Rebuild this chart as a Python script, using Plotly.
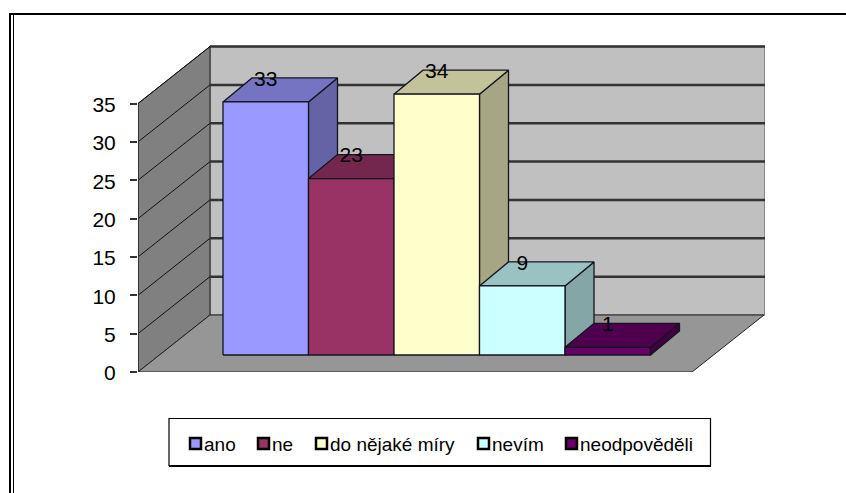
import plotly.graph_objects as go

categories = ["ano", "ne", "do nějaké míry", "nevím", "neodpověděli"]
values = [33, 23, 34, 9, 1]
colors = ["#9999FF", "#993366", "#FFFFCC", "#CCFFFF", "#660066"]
y_ticks = [0, 5, 10, 15, 20, 25, 30, 35]

W, H = 846, 493
L, R, T, B = 138, 81, 45, 121
PX_X = 85.5      # pixels per category
PX_Y = 7.67      # pixels per value unit
X_MAX = (W - L - R) / PX_X
Y_MAX = (H - B - T) / PX_Y
WALL_DX, WALL_DY = 72 / PX_X, 57 / PX_Y      # depth of the plot box
BAR_DX, BAR_DY = 29 / PX_X, 24 / PX_Y        # depth of a bar
BAR_X0, BAR_Y0 = (223 - L) / PX_X, (H - B - 355) / PX_Y
FLOOR_W = (692 - L) / PX_X
LABEL_DROP = 2.5 / PX_Y
EDGE = "#14141f"
FONT = "Liberation Sans, Arial, sans-serif"


def shade(hex_color, k):
    r, g, b = (int(hex_color[i:i + 2], 16) for i in (1, 3, 5))
    return f"rgb({round(r * k)},{round(g * k)},{round(b * k)})"


def poly(xs, ys, fill, line="#555555", width=1.3):
    return go.Scatter(x=xs + xs[:1], y=ys + ys[:1], mode="lines", fill="toself",
                      fillcolor=fill, line=dict(color=line, width=width),
                      hoverinfo="skip", showlegend=False, cliponaxis=False)


fig = go.Figure()
top = y_ticks[-1]
# box: back wall, left wall, floor
fig.add_trace(poly([WALL_DX, X_MAX, X_MAX, WALL_DX],
                   [WALL_DY, WALL_DY, top + WALL_DY, top + WALL_DY], "#C0C0C0", "#777777", 1.5))
fig.add_trace(poly([0, WALL_DX, WALL_DX, 0], [0, WALL_DY, top + WALL_DY, top], "#808080", "#222222", 1))
fig.add_trace(poly([0, FLOOR_W, FLOOR_W + WALL_DX, WALL_DX], [0, 0, WALL_DY, WALL_DY], "#969696", "#222222", 1))

# gridlines on the walls
gx_back, gy_back, gx_side, gy_side = [], [], [], []
for v in y_ticks[1:]:
    gx_back += [WALL_DX, X_MAX, None]
    gy_back += [v + WALL_DY, v + WALL_DY, None]
    gx_side += [0, WALL_DX, None]
    gy_side += [v, v + WALL_DY, None]
fig.add_trace(go.Scatter(x=gx_back, y=gy_back, mode="lines", line=dict(color="#333333", width=2.5),
                         hoverinfo="skip", showlegend=False, cliponaxis=False))
fig.add_trace(go.Scatter(x=gx_side, y=gy_side, mode="lines", line=dict(color="#111111", width=1),
                         hoverinfo="skip", showlegend=False, cliponaxis=False))
# value axis line
fig.add_trace(go.Scatter(x=[0, 0], y=[0, top], mode="lines", line=dict(color="#333333", width=2),
                         hoverinfo="skip", showlegend=False, cliponaxis=False))

# bars
for i, (name, v, c) in enumerate(zip(categories, values, colors)):
    x0, x1 = BAR_X0 + i, BAR_X0 + i + 1
    y0, y1 = BAR_Y0, BAR_Y0 + v
    fig.add_trace(poly([x1, x1 + BAR_DX, x1 + BAR_DX, x1],
                       [y0, y0 + BAR_DY, y1 + BAR_DY, y1], shade(c, 0.65), EDGE))
    fig.add_trace(poly([x0, x1, x1 + BAR_DX, x0 + BAR_DX],
                       [y1, y1, y1 + BAR_DY, y1 + BAR_DY], shade(c, 0.76), EDGE))
    fig.add_trace(poly([x0, x1, x1, x0], [y0, y0, y1, y1], c, EDGE))

# data labels
fig.add_trace(go.Scatter(
    x=[BAR_X0 + i + 0.5 for i in range(len(values))],
    y=[BAR_Y0 + v + BAR_DY - LABEL_DROP for v in values],
    mode="text", text=[str(v) for v in values], textposition="middle center",
    textfont=dict(family=FONT, size=21, color="#000000"),
    hoverinfo="skip", showlegend=False, cliponaxis=False))


def fx(px):
    return (px - L) / (W - L - R)


def fy(py):
    return (H - B - py) / (H - T - B)


shapes = []
annotations = []


def paper_rect(x0, y0, x1, y1, **kw):
    shapes.append(dict(type="rect", xref="paper", yref="paper", x0=fx(x0), x1=fx(x1),
                       y0=fy(y0), y1=fy(y1), layer="above", **kw))


def paper_line(x0, y0, x1, y1, width, color="#000000"):
    shapes.append(dict(type="line", xref="paper", yref="paper", x0=fx(x0), x1=fx(x1),
                       y0=fy(y0), y1=fy(y1), layer="above", line=dict(color=color, width=width)))


# outer frame (top and double left rule only)
paper_line(9, 14, W, 14, 2.2)
paper_line(10, 13, 10, H, 2)
paper_line(13.5, 14, 13.5, H, 1)

# legend box and entries
paper_rect(169, 418.5, 710.5, 465.5, fillcolor="#FFFFFF", line=dict(color="#000000", width=1.2))
paper_line(169, 466, 711, 466, 2)
swatch_x = [189, 257, 315, 477, 565]
for name, c, sx in zip(categories, colors, swatch_x):
    paper_rect(sx + 1, 438, sx + 12, 449, fillcolor=c, line=dict(color="#000000", width=2.5))
    annotations.append(dict(xref="paper", yref="paper", x=fx(sx + 15), y=fy(444),
                            text=name, showarrow=False, xanchor="left", yanchor="middle",
                            borderpad=0, borderwidth=0, font=dict(family=FONT, size=19, color="#000000")))

fig.update_layout(
    width=W, height=H, margin=dict(l=L, r=R, t=T, b=B, pad=0),
    paper_bgcolor="#FFFFFF", plot_bgcolor="rgba(0,0,0,0)", showlegend=False,
    shapes=shapes, annotations=annotations,
    xaxis=dict(range=[0, X_MAX], visible=False, fixedrange=True),
    yaxis=dict(range=[0, Y_MAX], tickmode="array", tickvals=y_ticks, ticktext=[str(t) for t in y_ticks],
               showgrid=False, zeroline=False, showline=False, ticks="outside", ticklen=7,
               tickwidth=2, tickcolor="#333333", fixedrange=True, ticklabelstandoff=10, ticklabelshift=1,
               tickfont=dict(family=FONT, size=21, color="#000000")),
)
fig.write_html("out.html", post_script="document.body.style.margin='0';",
               config=dict(displayModeBar=False))
